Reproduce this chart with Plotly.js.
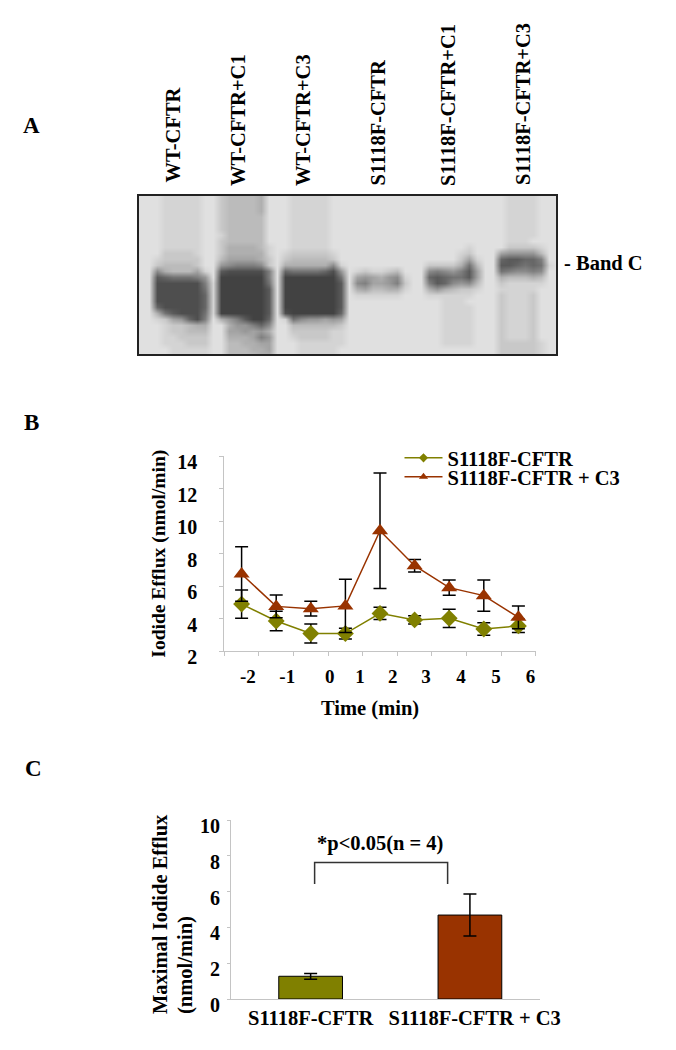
<!DOCTYPE html>
<html><head><meta charset="utf-8">
<script src="https://cdn.plot.ly/plotly-3.0.1.min.js"></script>
<style>html,body{margin:0;padding:0;background:#fff}</style></head>
<body><div id="chart" style="width:676px;height:1050px"></div>
<script>
// Panel A: lane labels
const laneLabels = ["WT-CFTR","WT-CFTR+C1","WT-CFTR+C3","S1118F-CFTR","S1118F-CFTR+C1","S1118F-CFTR+C3"];
// Panel A: gel darkness, one hex digit per cell (0 dark, f light)
const gelRows = [
"ee"+"edddddee"+"cbbbbaee"+"edddddeee"+"eeeeeeee"+"eeeeeeeee"+"eeddddeee",
"ee"+"edddddee"+"cbbbbaee"+"edddddeee"+"eeeeeeee"+"eeeeeeeee"+"eeddddeee",
"ee"+"edddddee"+"cbbbbaee"+"edddddeee"+"eeeeeeee"+"eeeeeeeee"+"eeddddeee",
"ee"+"edddddee"+"cbbbbbee"+"edddddeee"+"eeeeeeee"+"eeeeeeeee"+"eeddddeee",
"ee"+"edddddee"+"cbbbbbee"+"edddddeee"+"eeeeeeee"+"eeeeeeeee"+"eeddddeee",
"ee"+"edddddee"+"cbbbbbee"+"edddddeee"+"eeeeeeee"+"eeeeeeeee"+"eeddddeee",
"ee"+"edddddee"+"dbbbbbee"+"edddddeee"+"eeeeeeee"+"eeeeeeeee"+"eeddddeee",
"ee"+"edddddee"+"cbbbbbee"+"edddddeee"+"eeeeeeee"+"eeeeeeeee"+"eedddeeee",
"ee"+"edddddee"+"caaaabde"+"edddddeee"+"eeeeeeee"+"eeeeeedee"+"eeccccdee",
"ee"+"eccccdee"+"caaaaade"+"dcccccdee"+"eeeeeeee"+"eeeeedcee"+"e98888bee",
"ee"+"dcccccee"+"b9999ace"+"cbbbbbcee"+"eeeeeeee"+"eeeeec9de"+"e433446ee",
"ee"+"cbbbbcee"+"876667ce"+"aaaaaa7de"+"eeeeeeee"+"ecccca5be"+"e334545de",
"ee"+"7abbb9de"+"3222226e"+"45555428e"+"dcddcbee"+"e7678639e"+"e567767ee",
"ee"+"3455568e"+"1111116e"+"11111115e"+"989a87de"+"e4345539e"+"eabbbabee",
"ee"+"2222226d"+"1111115e"+"11111113e"+"769986ce"+"e634787be"+"ecdddddee",
"ee"+"2222225d"+"1111113e"+"11111113e"+"a9bbaade"+"ea8abccde"+"edddddeee",
"ee"+"2222224d"+"1111113e"+"11111113e"+"ddddddee"+"eddddddee"+"ecdddceee",
"ee"+"2222224d"+"1111113e"+"11111113e"+"eeeeeeee"+"eeedddeee"+"ecdddceee",
"ee"+"4222224d"+"1111113e"+"11111113e"+"eeeeeeee"+"eeeddddee"+"ecdddceee",
"ee"+"a532225d"+"1111113e"+"21111114e"+"eeeeeeee"+"eeeddddee"+"ecdddceee",
"ee"+"dc98426e"+"a863114e"+"d5788989e"+"eeeeeeee"+"eeeddddee"+"ecdddceee",
"ee"+"edccbaae"+"ea88647e"+"ebbbbbbce"+"eeeeeeee"+"eeeddddee"+"ecdddceee",
"ee"+"edccbbbe"+"e99898ae"+"ecccccdde"+"eeeeeeee"+"eeeddddee"+"ecdddceee",
"ee"+"eddcccce"+"eaaa968e"+"edccccdde"+"eeeeeeee"+"eeeddddee"+"ecdddceee",
"ee"+"edddccce"+"ebbaa99e"+"eedddddde"+"eeeeeeee"+"eeeddddee"+"ecccccdee",
"ee"+"eeddddde"+"ebbbaa9e"+"eedddddee"+"eeeeeeee"+"eeeeeeeee"+"ecccccdee",
"ee"+"eeddddde"+"ebbbbaae"+"eedddddee"+"eeeeeeee"+"eeeeeeeee"+"ecccccdee"
];
// Panel B
const timePoints = [-2.5,-1.5,-0.5,0.5,1.5,2.5,3.5,4.5,5.5];
const effluxPlain = [4.9,3.86,3.09,3.09,4.33,3.93,4.03,3.37,3.56];
const effluxPlainErr = [0.87,0.6,0.58,0.33,0.38,0.25,0.56,0.39,0.41];
const effluxC3 = [6.75,4.76,4.62,4.79,9.41,7.26,5.91,5.42,4.09];
const effluxC3Err = [1.68,0.7,0.45,1.63,3.55,0.38,0.47,0.96,0.7];
const timeTickVals = [-3,-2,-1,0,1,2,3,4,5,6];
const timeLabels = ["-2","-1","0","1","2","3","4","5","6"];
const timeLabelSpots = [-2.32,-1.18,0.05,0.92,1.87,2.83,3.84,4.85,5.85];
const effluxTicks = [2,4,6,8,10,12,14];
// Panel C
const groups = ["S1118F-CFTR","S1118F-CFTR + C3"];
const maxEfflux = [1.27,4.69];
const maxEffluxErr = [0.16,1.17];
const maxTicks = [0,2,4,6,8,10];
const bracketX = [0.025,0.025,0.86,0.86];
const bracketY = [6.42,7.62,7.62,6.42];

const W=676,H=1050;
const fx=(a,b)=>[a/W,b/W], fy=(top,bot)=>[1-bot/H,1-top/H];
const FONT='"Liberation Serif","Times New Roman",serif';
const bold=(size,color)=>({family:FONT,size:size,color:color||'#000',weight:700});
const GREEN='#808000', RED='#993300', AX='#c4c4c4', TXT=20.5;

const gelZ = gelRows.map(r=>r.split('').map(c=>parseInt(c,16)));
const err=(v)=>({type:'data',array:v,visible:true,color:'#000',thickness:1.5,width:6.5});

const traces=[
 {type:'heatmap',z:gelZ,xaxis:'x',yaxis:'y',zmin:0,zmax:15,zsmooth:'best',showscale:false,hoverinfo:'skip',
  colorscale:[[0,'#363636'],[1,'#ececec']]},
 {type:'scatter',mode:'lines+markers',x:timePoints,y:effluxPlain,error_y:err(effluxPlainErr),xaxis:'x2',yaxis:'y2',showlegend:false,
  line:{color:GREEN,width:1.5},marker:{symbol:'diamond',size:13,color:GREEN}},
 {type:'scatter',mode:'lines+markers',x:timePoints,y:effluxC3,error_y:err(effluxC3Err),xaxis:'x2',yaxis:'y2',showlegend:false,
  line:{color:RED,width:1.5},marker:{symbol:'triangle-up',size:14,color:RED}},
 {type:'scatter',mode:'lines+markers',name:groups[0],x:[null],y:[null],xaxis:'x2',yaxis:'y2',legend:'legend',
  line:{color:GREEN,width:1.5},marker:{symbol:'diamond',size:7,color:GREEN}},
 {type:'scatter',mode:'lines+markers',name:groups[1],x:[null],y:[null],xaxis:'x2',yaxis:'y2',legend:'legend2',
  line:{color:RED,width:1.5},marker:{symbol:'triangle-up',size:8,color:RED}},
 {type:'scatter',mode:'markers',x:timeLabelSpots,y:timeLabelSpots.map(()=>2),xaxis:'x4',yaxis:'y2',showlegend:false,hoverinfo:'skip',marker:{opacity:0,size:1}},
 {type:'bar',x:[0,1],y:maxEfflux,width:0.4,xaxis:'x3',yaxis:'y3',showlegend:false,
  marker:{color:[GREEN,RED],line:{color:'#000',width:1}},error_y:err(maxEffluxErr)},
 {type:'scatter',mode:'lines',x:bracketX,y:bracketY,xaxis:'x3',yaxis:'y3',showlegend:false,hoverinfo:'skip',line:{color:'#333',width:1.5}}
];

const laneX=[172,238,303,378,448,523];
const laneBottom=[185,188,188,188,188,187];
const note=(text,px,py,size,extra)=>Object.assign({text:text,x:px/W,y:1-py/H,xref:'paper',yref:'paper',xanchor:'center',yanchor:'middle',showarrow:false,font:bold(size)},extra||{});
const annotations=[
 ...laneLabels.map((t,i)=>note(t,laneX[i],laneBottom[i],TXT,{textangle:-90,yanchor:'bottom'})),
 note('A',31,125,23),
 note('B',31,422,23),
 note('C',33,768,23),
 note('- Band C',562,263,TXT,{xanchor:'left'}),
 note('*p<0.05(n = 4)',380,843,TXT),
 note('Time (min)',370,708,TXT),
 note('Maximal Iodide Efflux',160,1016,TXT,{textangle:-90,yanchor:'bottom'}),
 note('(nmol/min)',185,1016,TXT,{textangle:-90,yanchor:'bottom'})
];

const layout={
 width:W,height:H,margin:{l:0,r:0,t:0,b:0},paper_bgcolor:'#fff',plot_bgcolor:'#fff',font:bold(18),hovermode:false,
 xaxis:{domain:fx(139,556),range:[-0.27,51.83],showgrid:false,zeroline:false,showticklabels:false,ticks:'',showline:true,mirror:true,linecolor:'#222',linewidth:2},
 yaxis:{domain:fy(196,354),range:[25.9,-0.5],showgrid:false,zeroline:false,showticklabels:false,ticks:'',showline:true,mirror:true,linecolor:'#222',linewidth:2},
 xaxis2:{domain:fx(224.3,535.7),range:[-3,6],anchor:'y2',tickvals:timeTickVals,showticklabels:false,ticks:'outside',ticklen:4,tickcolor:AX,showgrid:false,zeroline:false,showline:true,linecolor:AX,linewidth:1},
 yaxis2:{domain:fy(456,651.3),range:[2,14],anchor:'x2',tickvals:effluxTicks,ticks:'outside',ticklen:4,tickcolor:AX,showgrid:false,zeroline:false,showline:true,linecolor:AX,linewidth:1,
   tickfont:bold(20),ticklabelstandoff:18,ticklabelshift:6,title:{text:'Iodide Efflux (nmol/min)',font:bold(19.5),standoff:6}},
 xaxis4:{domain:fx(224.3,535.7),range:[-3,6],anchor:'y2',overlaying:'x2',side:'bottom',tickvals:timeLabelSpots,ticktext:timeLabels,ticks:'',tickfont:bold(19),ticklabelstandoff:12,showgrid:false,zeroline:false,showline:false},
 xaxis3:{domain:fx(231,540),range:[-0.5,1.44],anchor:'y3',tickvals:[0,1.03],ticktext:groups,ticks:'',tickfont:bold(TXT),ticklabelstandoff:0,showgrid:false,zeroline:false,showline:true,linecolor:AX,linewidth:1},
 yaxis3:{domain:fy(820,999),range:[0,10],anchor:'x3',tickvals:maxTicks,ticks:'outside',ticklen:3,tickcolor:AX,showgrid:false,zeroline:false,showline:true,linecolor:AX,linewidth:1,
   tickfont:bold(20),ticklabelshift:6,ticklabelstandoff:3},
 legend:{x:399.5/W,y:1-438/H,xanchor:'left',yanchor:'top',font:bold(TXT),bgcolor:'rgba(0,0,0,0)',itemwidth:38,itemclick:false,itemdoubleclick:false},
 legend2:{x:399.5/W,y:1-457/H,xanchor:'left',yanchor:'top',font:bold(TXT),bgcolor:'rgba(0,0,0,0)',itemwidth:38,itemclick:false,itemdoubleclick:false},
 annotations:annotations
};
Plotly.newPlot('chart',traces,layout,{displayModeBar:false,responsive:false});
</script></body></html>
